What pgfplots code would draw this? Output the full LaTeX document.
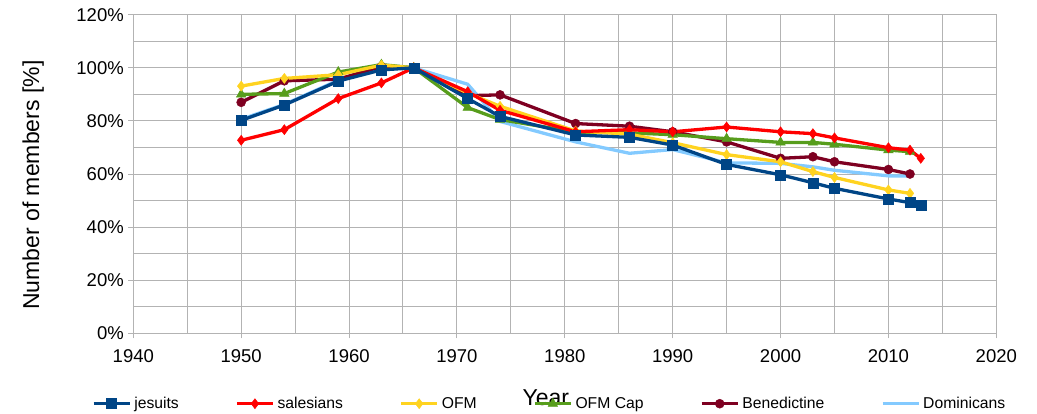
\documentclass[border=0pt]{standalone}
\usepackage{pgfplots}
\pgfplotsset{compat=1.18}
\usepackage{fontspec}
\setmainfont{Liberation Sans}
\definecolor{cJes}{HTML}{004586}
\definecolor{cSal}{HTML}{FF0000}
\definecolor{cOFM}{HTML}{FFD320}
\definecolor{cCap}{HTML}{579D1C}
\definecolor{cBen}{HTML}{7E0021}
\definecolor{cDom}{HTML}{83CAFF}
\definecolor{gridc}{HTML}{B3B3B3}
\begin{document}
\begin{tikzpicture}
\useasboundingbox (-133.3pt,-79.7pt) rectangle (903.7pt,333.3pt);
\begin{axis}[
  at={(0pt,0pt)}, anchor=south west,
  scale only axis, width=863pt, height=318.6pt,
  xmin=1940, xmax=2020, ymin=0, ymax=120,
  xtick={1940,1950,...,2020}, ytick={0,20,...,120},
  minor x tick num=1, minor y tick num=1,
  grid=both,
  major grid style={gridc, line width=1pt},
  minor grid style={gridc, line width=1pt},
  axis line style={gridc, line width=1pt},
  tick style={gridc, line width=1pt},
  tick align=outside, major tick length=5pt, minor tick length=0pt,
  xtick pos=bottom, ytick pos=left,
  /pgf/number format/assume math mode=true,
  /pgf/number format/1000 sep={},
  yticklabel={\pgfmathprintnumber{\tick}\%},
  tick label style={font=\fontsize{18.5}{22}\selectfont, text=black},
  xticklabel style={yshift=-8pt},
  yticklabel style={xshift=-1pt},
  xlabel={Year}, ylabel={Number of members [\%]},
  label style={font=\fontsize{23}{27}\selectfont},
  xlabel style={at={(axis description cs:0.478,-0.228)}, anchor=base},
  ylabel style={at={(axis description cs:-0.116,0.465)}, anchor=center},
  legend columns=-1, reverse legend,
  legend style={at={(axis description cs:0.483,-0.221)}, anchor=center, draw=none, fill=none,
    font=\fontsize{15.7}{18}\selectfont,
    /tikz/every even column/.append style={column sep=53.5pt},
    nodes={inner xsep=3pt}},
  legend image code/.code={\draw[mark repeat=2,mark phase=2] plot coordinates {(0pt,0pt) (18pt,0pt) (36pt,0pt)};},
  every axis plot/.append style={line width=3.3pt},
]
\addplot[cDom, no marks] coordinates {
(1950,80.6) (1954,86.2) (1959,95.3) (1963,101.0) (1966,100) (1971,93.8) (1974,79.8) (1981,72.1) (1986,67.8) (1990,69.2) (1995,64.2) (2000,64.0) (2003,62.7) (2005,61.4) (2010,59.3) (2012,59.2)};
\addlegendentry{Dominicans}
\addplot[cBen, mark=*, mark size=4.5pt, mark options={solid, line width=0.5pt, fill=cBen}] coordinates {
(1950,87.0) (1954,95.1) (1959,95.7) (1963,100.5) (1966,100) (1971,89.5) (1974,89.8) (1981,79.0) (1986,78.0) (1990,75.9) (1995,72.1) (2000,65.9) (2003,66.5) (2005,64.6) (2010,61.7) (2012,60.0)};
\addlegendentry{Benedictine}
\addplot[cCap, mark=triangle*, mark size=5.5pt, mark options={solid, line width=0.5pt, fill=cCap}] coordinates {
(1950,90.0) (1954,90.3) (1959,98.4) (1963,101.2) (1966,100) (1971,85.0) (1974,80.5) (1981,75.8) (1986,75.5) (1990,74.8) (1995,73.3) (2000,71.9) (2003,71.9) (2005,71.2) (2010,69.0) (2012,68.4)};
\addlegendentry{OFM Cap}
\addplot[cOFM, mark=diamond*, mark size=5pt, mark options={solid, line width=0.5pt, fill=cOFM}] coordinates {
(1950,93.1) (1954,96.0) (1959,97.4) (1963,101.0) (1966,100) (1971,90.5) (1974,85.5) (1981,76.2) (1986,75.0) (1990,71.8) (1995,67.3) (2000,64.6) (2003,60.9) (2005,58.7) (2010,54.0) (2012,52.7)};
\addlegendentry{OFM}
\addplot[cSal, mark=diamond*, mark size=5pt, mark options={solid, line width=0.5pt, fill=cSal}] coordinates {
(1950,72.7) (1954,76.7) (1959,88.4) (1963,94.3) (1966,100) (1971,91.0) (1974,84.0) (1981,75.9) (1986,76.7) (1990,75.9) (1995,77.7) (2000,75.9) (2003,75.2) (2005,73.6) (2010,69.9) (2012,69.0) (2013,65.9)};
\addlegendentry{salesians}
\addplot[cJes, mark=square*, mark size=5pt, mark options={solid, line width=0.5pt, fill=cJes}] coordinates {
(1950,80.2) (1954,86.0) (1959,95.0) (1963,99.2) (1966,100) (1971,88.4) (1974,81.7) (1981,74.7) (1986,73.8) (1990,70.9) (1995,63.6) (2000,59.7) (2003,56.7) (2005,54.6) (2010,50.6) (2012,49.2) (2013,48.4)};
\addlegendentry{jesuits}
\end{axis}
\end{tikzpicture}
\end{document}
